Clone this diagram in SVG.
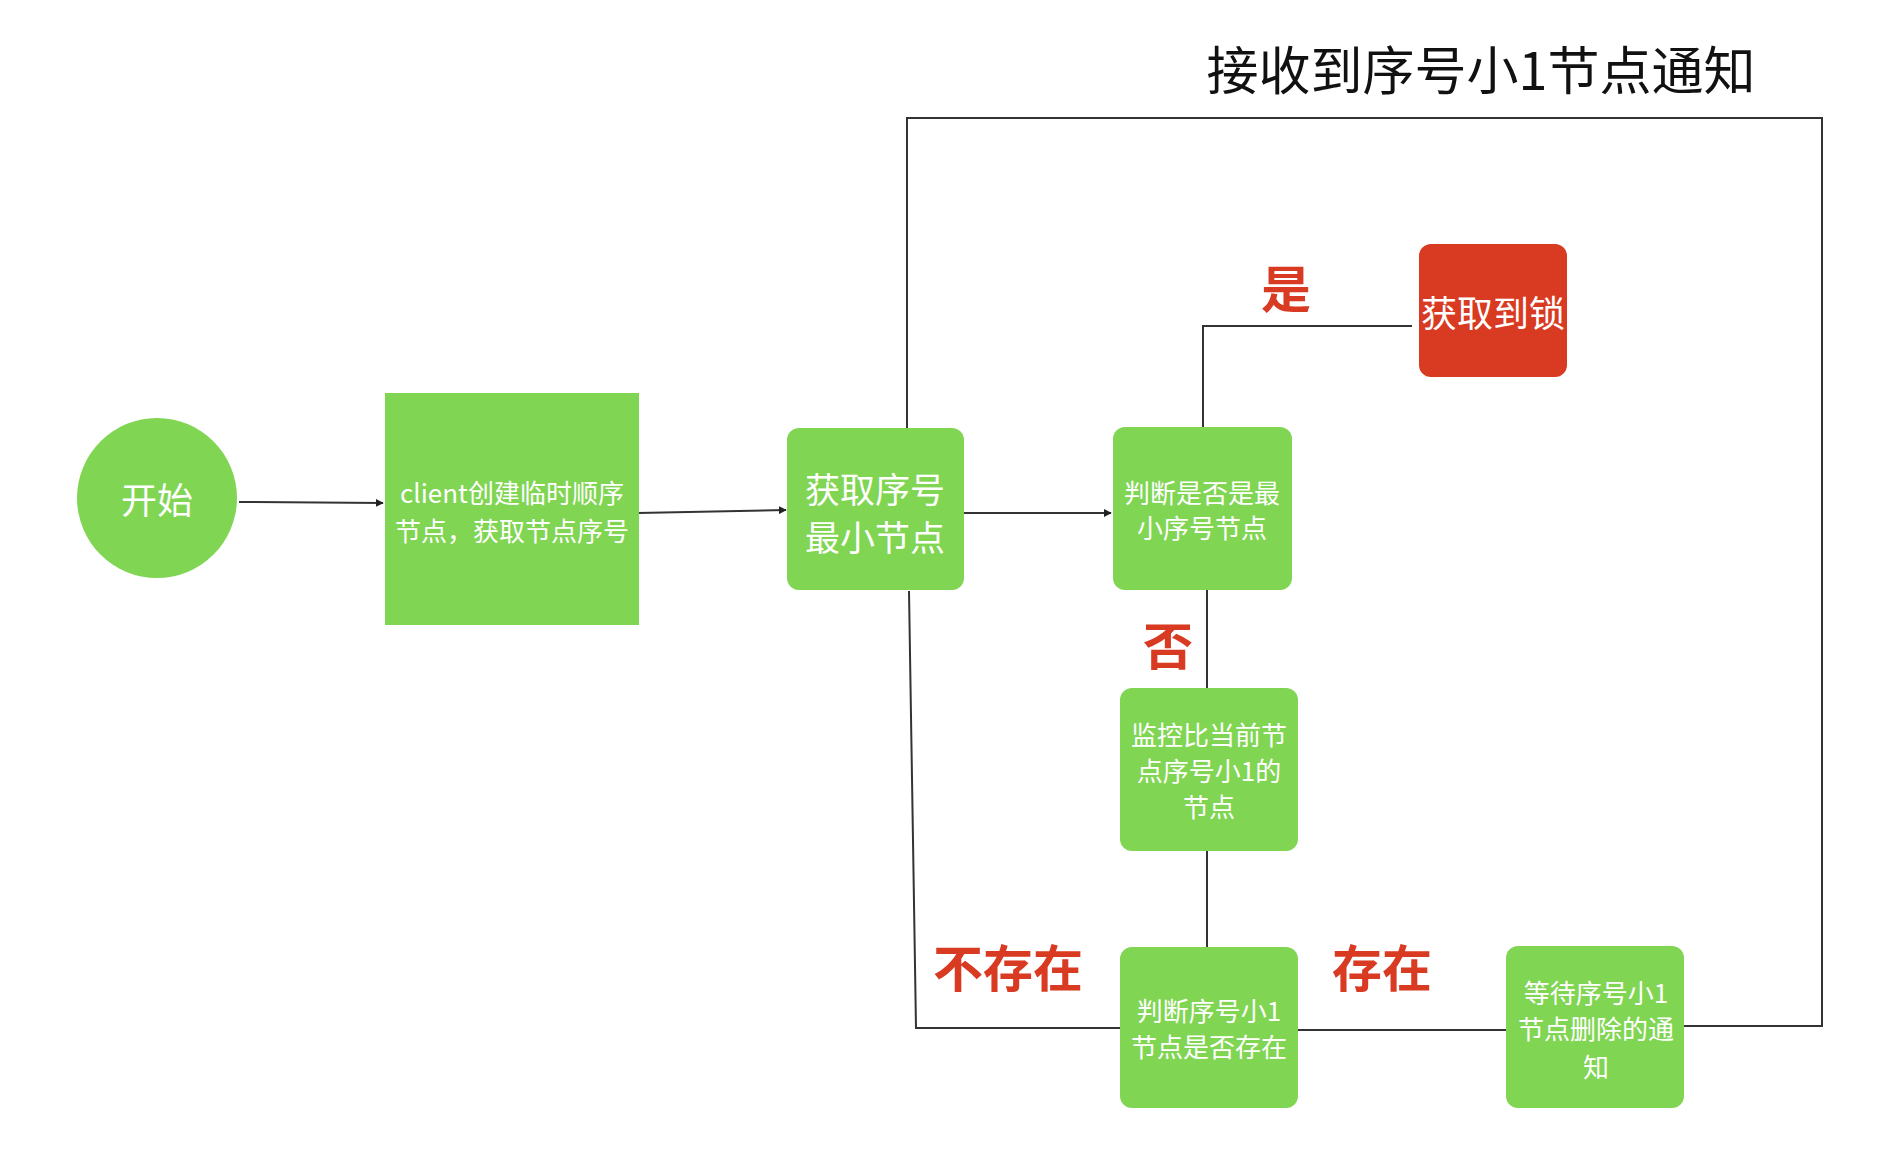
<svg xmlns="http://www.w3.org/2000/svg" width="1894" height="1160" viewBox="0 0 1894 1160">
<style>
.n{fill:#80d553}
.r{fill:#d93a22}
.t{fill:#fff;font-family:"Noto Sans CJK SC","Noto Sans",sans-serif;text-anchor:middle;dominant-baseline:central}
.lb{fill:#d93a22;font-family:"Noto Sans CJK SC",sans-serif;font-weight:bold;text-anchor:middle;dominant-baseline:central;font-size:50px}
.c{fill:none;stroke:#333;stroke-width:2}
</style>
<defs>
<marker id="a" viewBox="0 0 10 10" refX="9" refY="5" markerWidth="8" markerHeight="8" markerUnits="userSpaceOnUse" orient="auto"><path d="M0,0L10,5L0,10z" fill="#222"/></marker>
</defs>
<rect width="1894" height="1160" fill="#fff"/>
<text x="1481" y="67" font-family="Noto Sans CJK SC,sans-serif" font-size="52" text-anchor="middle" dominant-baseline="central" fill="#111">接收到序号小1节点通知</text>
<g id="connectors">
<line class="c" x1="239" y1="502" x2="383" y2="503" marker-end="url(#a)"/>
<line class="c" x1="638" y1="513" x2="786" y2="510" marker-end="url(#a)"/>
<line class="c" x1="964" y1="513" x2="1111" y2="513" marker-end="url(#a)"/>
<polyline class="c" points="907,428 907,118 1822,118 1822,1026 1684,1026"/>
<polyline class="c" points="909,591 916,1028 1120,1028"/>
<line class="c" x1="1298" y1="1030" x2="1506" y2="1030"/>
<polyline class="c" points="1203,427 1203,326 1412,326"/>
<line class="c" x1="1207" y1="590" x2="1207" y2="688"/>
<line class="c" x1="1207" y1="851" x2="1207" y2="947"/>
</g>
<g id="start"><ellipse class="n" cx="157" cy="498" rx="80" ry="80"/><text class="t" x="157" y="498" font-size="36">开始</text></g>
<g id="create"><rect class="n" x="385" y="393" width="254" height="232"/><text class="t" x="512" y="491" font-size="26">client创建临时顺序</text><text class="t" x="512" y="529" font-size="26">节点，获取节点序号</text></g>
<g id="getmin"><rect class="n" x="787" y="428" width="177" height="162" rx="12"/><text class="t" x="875" y="487" font-size="35">获取序号</text><text class="t" x="875" y="535" font-size="35">最小节点</text></g>
<g id="judge"><rect class="n" x="1113" y="427" width="179" height="163" rx="12"/><text class="t" x="1202" y="491" font-size="26">判断是否是最</text><text class="t" x="1202" y="526" font-size="26">小序号节点</text></g>
<g id="lock"><rect class="r" x="1419" y="244" width="148" height="133" rx="12"/><text class="t" x="1493" y="311" font-size="36">获取到锁</text></g>
<g id="watch"><rect class="n" x="1120" y="688" width="178" height="163" rx="12"/><text class="t" x="1209" y="733" font-size="26">监控比当前节</text><text class="t" x="1209" y="769" font-size="26">点序号小1的</text><text class="t" x="1209" y="805" font-size="26">节点</text></g>
<g id="exists"><rect class="n" x="1120" y="947" width="178" height="161" rx="12"/><text class="t" x="1209" y="1009" font-size="26">判断序号小1</text><text class="t" x="1209" y="1045" font-size="26">节点是否存在</text></g>
<g id="wait"><rect class="n" x="1506" y="946" width="178" height="162" rx="12"/><text class="t" x="1596" y="991" font-size="26">等待序号小1</text><text class="t" x="1596" y="1027" font-size="26">节点删除的通</text><text class="t" x="1596" y="1065" font-size="26">知</text></g>
<g id="labels">
<text class="lb" x="1286" y="286">是</text>
<text class="lb" x="1168" y="643">否</text>
<text class="lb" x="1008" y="965">不存在</text>
<text class="lb" x="1382" y="965">存在</text>
</g>
</svg>
